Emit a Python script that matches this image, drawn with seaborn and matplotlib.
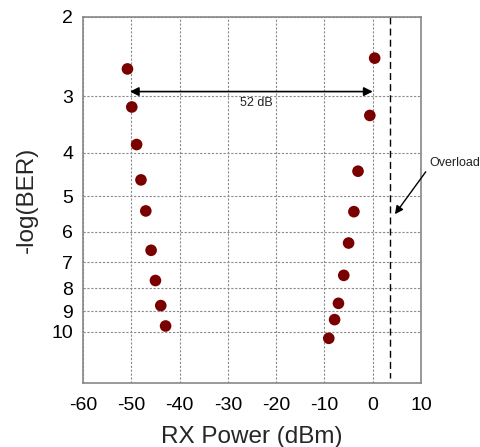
import matplotlib
matplotlib.use("Agg")
import matplotlib.pyplot as plt
from matplotlib.ticker import FixedLocator, FixedFormatter, NullLocator
import seaborn as sns
import pandas as pd

# Data
low_power = [-50.8, -49.9, -48.9, -48.0, -47.0, -45.9, -45.0, -43.9, -42.9]
low_ber = [2.61, 3.17, 3.84, 4.60, 5.39, 6.59, 7.69, 8.74, 9.70]
high_power = [0.4, -0.6, -3.05, -3.9, -5.0, -6.0, -7.1, -7.9, -9.1]
high_ber = [2.47, 3.31, 4.40, 5.41, 6.35, 7.49, 8.64, 9.39, 10.33]
x_ticks = [-60, -50, -40, -30, -20, -10, 0, 10]
y_ticks = [2, 3, 4, 5, 6, 7, 8, 9, 10]
overload_x = 3.6

df = pd.DataFrame({"power": low_power + high_power, "ber": low_ber + high_ber})

sns.set_theme(style="white")
plt.rcParams["font.family"] = ["Liberation Sans", "DejaVu Sans"]
plt.rcParams["axes.unicode_minus"] = False

fig = plt.figure(figsize=(4.81, 4.47), dpi=100)
ax = fig.add_axes([0.1726, 0.1438, 0.7027, 0.8186])

ax.set_yscale("log")
ax.set_xlim(-60, 10)
ax.set_ylim(12.96, 2)

ax.yaxis.set_major_locator(FixedLocator(y_ticks))
ax.yaxis.set_major_formatter(FixedFormatter([str(t) for t in y_ticks]))
ax.yaxis.set_minor_locator(NullLocator())
ax.xaxis.set_major_locator(FixedLocator(x_ticks))

ax.grid(True, which="major", color="#8a8a8a", linestyle=(0, (2, 1.5)), linewidth=0.8)
ax.set_axisbelow(True)

sns.scatterplot(data=df, x="power", y="ber", ax=ax, color="#7a0000", s=70,
                edgecolor="none", zorder=3, legend=False)

# overload dashed line
ax.plot([overload_x, overload_x], [2, 12.65], color="black", linestyle=(0, (5, 3)), linewidth=1)

# 52 dB double arrow
ax.annotate("", xy=(-50.3, 2.93), xytext=(0.0, 2.93),
            arrowprops=dict(arrowstyle="<|-|>", color="black", lw=1.2, mutation_scale=13,
                            shrinkA=0, shrinkB=0))
ax.text(-24, 3.10, "52 dB", fontsize=9, ha="center", va="center", color="#222222")

# Overload annotation
ax.annotate("Overload", xy=(4.6, 5.48), xytext=(11.65, 4.21),
            fontsize=9, ha="left", va="center", annotation_clip=False, color="#222222",
            arrowprops=dict(arrowstyle="-|>", color="black", lw=1, mutation_scale=12,
                            shrinkA=0, shrinkB=0, relpos=(0, 0.1)))

for s in ax.spines.values():
    s.set_color("#888888")
    s.set_linewidth(1.2)

ax.tick_params(axis="y", length=0, labelsize=14, pad=7, colors="black")
ax.tick_params(axis="x", length=0, labelsize=14, pad=10, colors="black")
ax.set_xlabel("RX Power (dBm)", fontsize=17.5, labelpad=9)
ax.set_ylabel("-log(BER)", fontsize=17.5, labelpad=10)

fig.savefig("out.png", dpi=100)
